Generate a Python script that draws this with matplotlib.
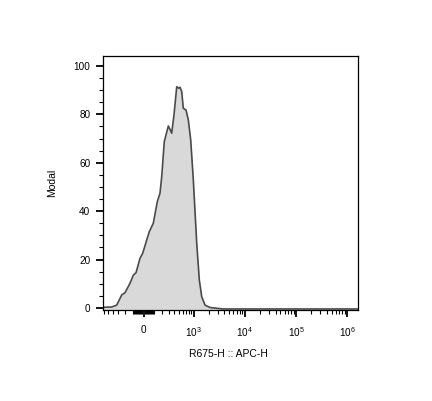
import matplotlib
matplotlib.use("Agg")
import matplotlib.pyplot as plt
from matplotlib.ticker import FixedLocator, FixedFormatter

plt.rcParams['font.family'] = ['Liberation Sans', 'DejaVu Sans']
plt.rcParams['mathtext.fontset'] = 'custom'
plt.rcParams['mathtext.rm'] = 'Liberation Sans'

# histograma (valores em APC-H, escala biexponencial)
apc_h = [-640, -420, -324, -244, -199, -138, -101, -73, -34, -8, 31, 56, 97,
         141, 173, 195, 230, 291, 319, 349, 393, 451, 497, 530, 575, 620,
         705, 785, 877, 989, 1156, 1300, 1450, 1684, 2112, 3790, 1600000]
modal = [0.3, 0.4, 1.2, 5.4, 6.3, 10.2, 13.6, 14.6, 20.5, 22.6, 28.1, 31.5, 35.0,
         43.9, 47.4, 54.3, 68.8, 75.2, 73.8, 72.2, 79.8, 91.4, 90.8, 91.2, 89.4, 82.5,
         81.8, 77.7, 69.4, 52.9, 26.7, 11.6, 4.7, 1.2, 0.2, -0.4, -0.4]

x_ticks = [0, 1e3, 1e4, 1e5, 1e6]
x_labels = ['0', r'$\mathregular{10^3}$', r'$\mathregular{10^4}$',
            r'$\mathregular{10^5}$', r'$\mathregular{10^6}$']
y_ticks = [0, 20, 40, 60, 80, 100]

# ticks menores
x_minor = [-k * 100 for k in range(1, 7)] + [-k * 10 for k in range(1, 10)]
x_minor += [k * 10 for k in range(1, 10)] + [k * 100 for k in range(1, 10)]
for dec in [1e3, 1e4, 1e5]:
    x_minor += [k * dec for k in range(2, 10)]
y_minor = list(range(5, 105, 5))

fig = plt.figure(figsize=(4.32, 4.01), dpi=100)
ax = fig.add_axes([0.2384, 0.2269, 0.5903, 0.6334])

ax.fill_between(apc_h, modal, -1, color='#d9d9d9', lw=0)
ax.plot(apc_h, modal, color='#4a4a4a', lw=1.2)

ax.set_xscale('asinh', linear_width=214)
ax.set_xlim(-642, 1.62e6)
ax.set_ylim(-0.83, 104.1)

ax.xaxis.set_major_locator(FixedLocator(x_ticks))
ax.xaxis.set_major_formatter(FixedFormatter(x_labels))
ax.xaxis.set_minor_locator(FixedLocator(x_minor))
ax.yaxis.set_major_locator(FixedLocator(y_ticks))
ax.yaxis.set_minor_locator(FixedLocator(y_minor))

ax.tick_params(which='major', length=5, width=1.3, labelsize=7.2, color='black')
ax.tick_params(which='minor', length=3, width=0.8, color='black')
ax.tick_params(axis='x', which='major', pad=6)
ax.tick_params(axis='y', which='major', pad=4)

for s in ax.spines.values():
    s.set_linewidth(0.9)

ax.set_xlabel('R675-H :: APC-H', fontsize=7.5, labelpad=8)
ax.set_ylabel('Modal', fontsize=7.5, labelpad=12)
ax.xaxis.set_label_coords(0.49, -0.155)

fig.savefig('out.png', dpi=100)
